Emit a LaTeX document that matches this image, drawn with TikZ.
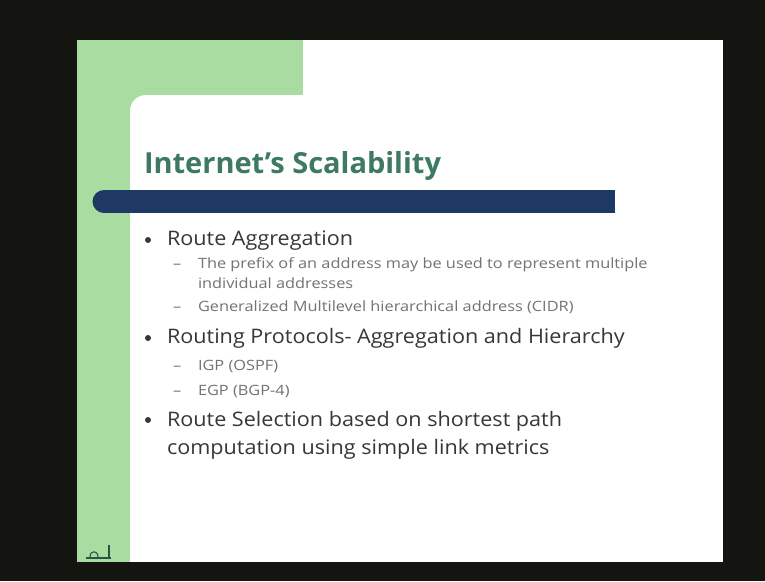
\documentclass[tikz,border=0pt]{standalone}
\usepackage{fontspec}
\setmainfont{Open Sans}
\newfontfamily\itemfont[FakeStretch=1.08]{Open Sans}
\newfontfamily\subfont[FakeStretch=1.15]{Open Sans}
\usetikzlibrary{positioning}

\definecolor{screenblack}{RGB}{20,20,16}
\definecolor{slidegreen}{RGB}{168,220,160}
\definecolor{titleteal}{RGB}{62,122,96}
\definecolor{barblue}{RGB}{30,58,100}
\definecolor{maintext}{RGB}{55,55,55}
\definecolor{subtext}{RGB}{115,115,115}

\begin{document}
\begin{tikzpicture}[
  x=1pt, y=-1pt,
  every node/.style={inner sep=0pt, outer sep=0pt},
  slidetitle/.style={anchor=base west, text=titleteal,
    font=\fontsize{29}{29}\selectfont\bfseries},
  item/.style={anchor=base west, text=maintext,
    font=\itemfont\fontsize{20}{20}\selectfont},
  subitem/.style={anchor=base west, text=subtext,
    font=\subfont\fontsize{14.2}{14.2}\selectfont},
  dot/.style={circle, fill=maintext, minimum size=6pt},
  subdash/.style={anchor=base west, text=subtext,
    font=\subfont\fontsize{14.2}{14.2}\selectfont}
]
  \useasboundingbox (0,0) rectangle (765,581);
  \fill[screenblack] (0,0) rectangle (765,581);

  % slide and green frame
  \fill[white] (77,40) rectangle (723,562);
  \fill[slidegreen] (77,40) rectangle (303,130);
  \fill[slidegreen] (77,40) rectangle (130,562);
  \fill[white, rounded corners=16pt] (130,95) rectangle (340,220);

  % title bar
  \fill[barblue] (104,190) rectangle (615,213);
  \fill[barblue] (104,201.5) circle (11.5);

  \node[slidetitle] (title) at (144,173) {Internet's Scalability};

  % route aggregation
  \node[dot] (d1) at (148,240) {};
  \node[item] (agg) at (167,245) {Route Aggregation};
  \node[subdash] (s1) at (173,268) {–};
  \node[subitem] (prefix) at (198,268) {The prefix of an address may be used to represent multiple};
  \node[subitem] (indiv) at (198,288) {individual addresses};
  \node[subdash] (s2) at (173,311) {–};
  \node[subitem] (cidr) at (198,311) {Generalized Multilevel hierarchical address (CIDR)};

  % routing protocols
  \node[dot] (d2) at (148,338) {};
  \node[item] (proto) at (167,343) {Routing Protocols- Aggregation and Hierarchy};
  \node[subdash] (s3) at (173,370) {–};
  \node[subitem] (igp) at (198,370) {IGP (OSPF)};
  \node[subdash] (s4) at (173,395) {–};
  \node[subitem] (egp) at (198,395) {EGP (BGP-4)};

  % route selection
  \node[dot] (d3) at (148,420) {};
  \node[item] (sel) at (167,426) {Route Selection based on shortest path};
  \node[item] (comp) at (167,454) {computation using simple link metrics};

  % small logo
  \draw[titleteal!70!black, line width=1.2pt] (86,558) -- (111,558);
  \draw[titleteal!70!black, line width=1.2pt] (109,545) -- (109,558);
  \draw[titleteal!70!black, line width=1.1pt] (90,557) .. controls (90,550) and (98,550) .. (98,557);
\end{tikzpicture}
\end{document}
